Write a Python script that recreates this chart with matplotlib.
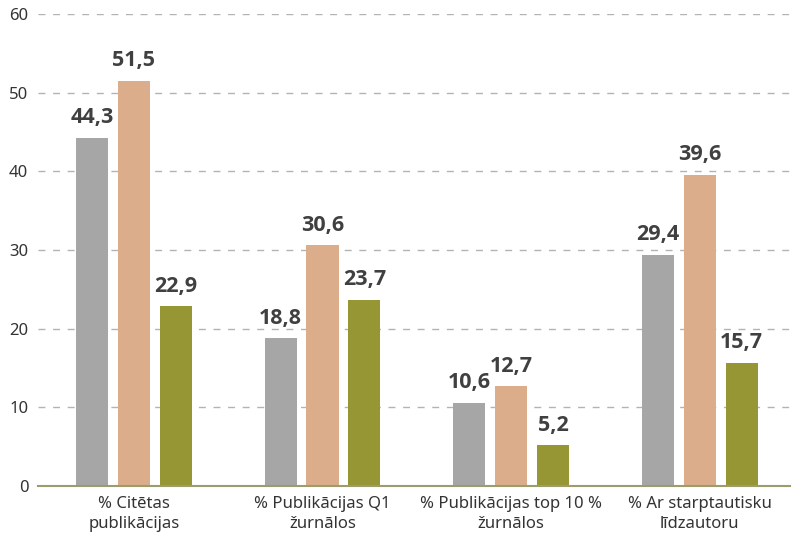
import matplotlib
matplotlib.use("Agg")
import matplotlib.pyplot as plt
import numpy as np

plt.rcParams['font.family'] = ['Noto Sans', 'DejaVu Sans']

categories = ["% Citētas\npublikācijas", "% Publikācijas Q1\nžurnālos",
              "% Publikācijas top 10 %\nžurnālos", "% Ar starptautisku\nlīdzautoru"]
series1 = [44.3, 18.8, 10.6, 29.4]
series2 = [51.5, 30.6, 12.7, 39.6]
series3 = [22.9, 23.7, 5.2, 15.7]
colors = ["#a6a6a6", "#dcad8b", "#979634"]

fig = plt.figure(figsize=(7.92, 5.39), dpi=100)
ax = fig.add_axes([0.048, 0.098, 0.950, 0.876])

x = np.arange(len(categories))
step = 0.222
width = 0.17
for i, (vals, c) in enumerate(zip([series1, series2, series3], colors)):
    pos = x + (i - 1) * step
    ax.bar(pos, vals, width=width, color=c, zorder=3)
    for p, v in zip(pos, vals):
        ax.text(p, v + 1.2, f"{v:.1f}".replace(".", ","), ha="center", va="bottom",
                fontsize=15.5, fontweight="bold", color="#404040",
                family=["Open Sans", "DejaVu Sans"])

ax.set_ylim(0, 60)
ax.set_xlim(-0.508, 3.48)
ax.set_yticks(range(0, 61, 10))
ax.yaxis.grid(True, linestyle=(0, (5, 5.5)), color="#b3b3b3", linewidth=1, zorder=0)
ax.set_xticks(x)
ax.set_xticklabels(categories, fontsize=12, color="#333333", linespacing=1.3)
ax.tick_params(axis="x", length=0, pad=7)
ax.tick_params(axis="y", length=0, pad=7, labelsize=12, labelcolor="#333333")
for s in ["top", "right", "left"]:
    ax.spines[s].set_visible(False)
ax.spines["bottom"].set_color("#9c9c6c")
ax.spines["bottom"].set_linewidth(1.5)
ax.spines["bottom"].set_zorder(4)

fig.savefig("out.png", dpi=100)
